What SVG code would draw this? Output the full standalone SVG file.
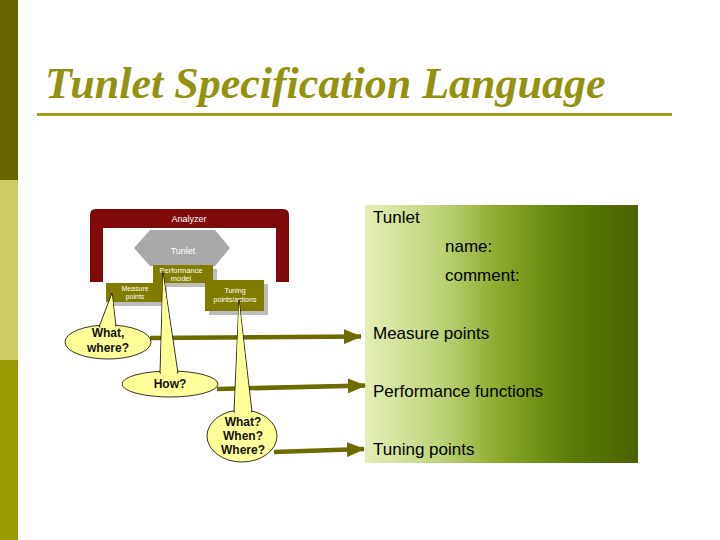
<svg xmlns="http://www.w3.org/2000/svg" width="720" height="540" viewBox="0 0 720 540">
<defs>
<linearGradient id="pg" x1="0" y1="0" x2="1" y2="0">
<stop offset="0" stop-color="#E4EFB5"/>
<stop offset="0.28" stop-color="#BCD377"/>
<stop offset="0.5" stop-color="#8AA82A"/>
<stop offset="0.75" stop-color="#5B7C08"/>
<stop offset="1" stop-color="#4A6200"/>
</linearGradient>
<marker id="ah" viewBox="0 0 18 15" refX="17" refY="7.5" markerWidth="18" markerHeight="15" orient="auto" markerUnits="userSpaceOnUse">
<path d="M0,0 L18,7.5 L0,15 z" fill="#6B6B00"/>
</marker>
<style>
.arrow{stroke:#6B6B00;stroke-width:4.5;fill:none}
.balloon{fill:#FFFF99;stroke:#000;stroke-width:0.8}
.ptr{fill:#FFFF99;stroke:#000;stroke-width:0.8;stroke-linejoin:miter}
.ctext{font-family:"Liberation Sans",Arial,sans-serif;font-size:12px;font-weight:bold;fill:#111;text-anchor:middle}
.ptext{font-family:"Liberation Sans",Arial,sans-serif;font-size:17px;fill:#000}
.box{fill:#7F7C00}
.shadow{fill:#BDBDBD}
.wt{font-family:"Liberation Sans",Arial,sans-serif;fill:#fff;text-anchor:middle}
</style>
</defs>
<rect width="720" height="540" fill="#fff"/>
<rect x="0" y="0" width="18" height="180" fill="#666600"/>
<rect x="0" y="180" width="18" height="180" fill="#CCCC66"/>
<rect x="0" y="360" width="18" height="180" fill="#999900"/>
<text x="45" y="98" font-family="'Liberation Serif','Times New Roman',serif" font-size="44" font-style="italic" font-weight="bold" fill="#929210">Tunlet Specification Language</text>
<rect x="37" y="113" width="635" height="3" fill="#9E9E1E"/>

<g id="panel">
<rect x="365" y="205" width="273" height="258" fill="url(#pg)"/>
<text class="ptext" x="373" y="223">Tunlet</text>
<text class="ptext" x="445" y="252">name:</text>
<text class="ptext" x="445" y="281">comment:</text>
<text class="ptext" x="373" y="339">Measure points</text>
<text class="ptext" x="373" y="397">Performance functions</text>
<text class="ptext" x="373" y="455">Tuning points</text>
</g>

<g id="analyzer">
<path d="M96,209 L283,209 Q289,209 289,215 L289,282 L276,282 L276,228 L103,228 L103,282 L90,282 L90,215 Q90,209 96,209 Z" fill="#7E0A0A"/>
<text class="wt" x="189" y="222" font-size="9">Analyzer</text>
</g>
<g id="tunlet">
<polygon points="134,248 150,230 215,230 230,248 215,266 150,266" fill="#A9A9A9"/>
<text class="wt" x="183" y="254" font-size="9">Tunlet</text>
</g>
<g id="perfmodel">
<rect class="shadow" x="157" y="269" width="60" height="18"/>
<rect class="box" x="153" y="265" width="60" height="18"/>
<text class="wt" x="181" y="273" font-size="7.5">Performance</text>
<text class="wt" x="181" y="281" font-size="7.5">model</text>
</g>
<g id="measure">
<rect class="shadow" x="110" y="287" width="57" height="19"/>
<rect class="box" x="106" y="283" width="57" height="19"/>
<text class="wt" x="135" y="291" font-size="7">Measure</text>
<text class="wt" x="135" y="299" font-size="7">points</text>
</g>
<g id="tuning">
<rect class="shadow" x="209" y="284" width="59" height="31"/>
<rect class="box" x="205" y="280" width="59" height="31"/>
<text class="wt" x="235" y="293" font-size="7">Tuning</text>
<text class="wt" x="235" y="302" font-size="7">points/actions</text>
</g>

<g id="connectors">
<line class="arrow" x1="150" y1="338" x2="361" y2="336.5" marker-end="url(#ah)"/>
<line class="arrow" x1="217" y1="389" x2="365" y2="385.5" marker-end="url(#ah)"/>
<line class="arrow" x1="274" y1="452" x2="364" y2="449" marker-end="url(#ah)"/>
</g>

<g id="callout-what-where">
<ellipse class="balloon" cx="108" cy="342" rx="43" ry="17"/>
<polygon class="ptr" points="99,327 112,293 116,326"/>
<polygon points="100,328 112,295 115,328" fill="#FFFF99"/>
<text class="ctext" x="108" y="337">What,</text>
<text class="ctext" x="108" y="352">where?</text>
</g>
<g id="callout-how">
<ellipse class="balloon" cx="170" cy="384" rx="48" ry="13"/>
<polygon class="ptr" points="160,373 163,273 178,373"/>
<polygon points="161,375 163,275 177,375" fill="#FFFF99"/>
<text class="ctext" x="170" y="388">How?</text>
</g>
<g id="callout-what-when-where">
<ellipse class="balloon" cx="242" cy="436" rx="35" ry="26"/>
<polygon class="ptr" points="234,412 239,300 252,412"/>
<polygon points="235,414 239,302 251,414" fill="#FFFF99"/>
<text class="ctext" x="243" y="426">What?</text>
<text class="ctext" x="243" y="440">When?</text>
<text class="ctext" x="243" y="454">Where?</text>
</g>
</svg>
